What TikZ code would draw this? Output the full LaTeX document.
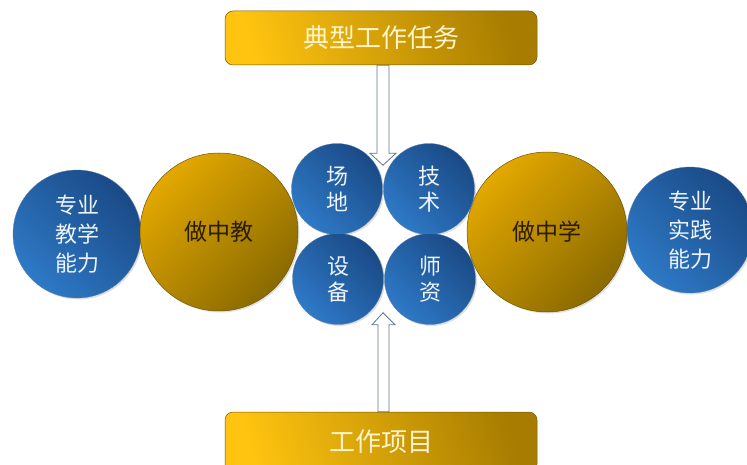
\documentclass[tikz,border=0pt]{standalone}
\usepackage{fontspec}
\setmainfont{Noto Sans CJK SC}
\usetikzlibrary{calc,shadows}
\definecolor{blueL}{HTML}{2E79C6}
\definecolor{blueD}{HTML}{1A4A86}
\definecolor{goldL}{HTML}{E3A800}
\definecolor{goldD}{HTML}{8A6A00}
\definecolor{boxL}{HTML}{FFC410}
\definecolor{boxD}{HTML}{A77C00}
\definecolor{boxtxt}{HTML}{FFF4CC}
\definecolor{bluetxt}{HTML}{EEF4FA}
\definecolor{goldtxt}{HTML}{2A1C00}
\definecolor{arrline}{HTML}{61758F}
\begin{document}
\begin{tikzpicture}[x=1pt,y=-1pt,
  bluec/.style={circle,inner sep=0pt,top color=blueD,bottom color=blueL,shading angle=-45,
    draw=blueD!70,line width=0.3pt,text=bluetxt,align=center,
    drop shadow={opacity=0.25,shadow xshift=1.5pt,shadow yshift=-1.5pt}},
  goldc/.style={circle,inner sep=0pt,top color=goldL,bottom color=goldD,shading angle=45,
    draw=goldD!80!black,line width=0.5pt,text=goldtxt,
    font={\fontsize{23}{28}\selectfont},
    drop shadow={opacity=0.25,shadow xshift=1.5pt,shadow yshift=-1.5pt}},
  bigtxt/.style={font={\fontsize{22}{29}\selectfont}},
  smalltxt/.style={font={\fontsize{22}{26}\selectfont}},
  boxs/.style={rectangle,rounded corners=8pt,top color=boxD,bottom color=boxL,shading angle=-75,
    draw=boxD!70!black,line width=0.5pt,text=boxtxt,minimum width=312pt,
    font={\fontsize{26}{30}\selectfont}},
  arr/.style={draw=arrline,fill=white,line width=0.8pt,line join=miter}
]
\useasboundingbox (0,0) rectangle (747,465);
\clip (0,0) rectangle (747,465);

% boxes
\node[boxs,minimum height=54pt] (top) at (381,38) {典型工作任务};
\node[boxs,minimum height=60pt] (bot) at (381,442) {工作项目};

% big circles
\node[bluec,bigtxt,minimum size=128pt] (jx) at (77,234) {专业\\教学\\能力};
\node[goldc,minimum size=158pt] (zj) at (219,232) {做中教};
\node[goldc,minimum size=160pt] (zx) at (547,232) {做中学};
\node[bluec,bigtxt,minimum size=126pt] (sj) at (690,230) {专业\\实践\\能力};

% small circles
\node[bluec,smalltxt,minimum size=91pt] (cd) at (337,189) {场\\地};
\node[bluec,smalltxt,minimum size=91pt] (js) at (429,189) {技\\术};
\node[bluec,smalltxt,minimum size=91pt] (sb) at (338,279) {设\\备};
\node[bluec,smalltxt,minimum size=91pt] (sz) at (430,279) {师\\资};

% arrows
\coordinate (ttip) at ($(top.south)+(2,100)$);
\draw[arr] ($(top.south)+(-4,0)$) -- ($(top.south)+(8,0)$) -- ($(ttip)+(6,-12)$)
  -- ($(ttip)+(13,-12)$) -- (ttip) -- ($(ttip)+(-13,-12)$) -- ($(ttip)+(-6,-12)$) -- cycle;
\coordinate (btip) at ($(bot.north)+(2,-99)$);
\draw[arr] ($(bot.north)+(-3,0)$) -- ($(bot.north)+(8,0)$) -- ($(btip)+(6,12)$)
  -- ($(btip)+(12,12)$) -- (btip) -- ($(btip)+(-11,12)$) -- ($(btip)+(-5,12)$) -- cycle;
\end{tikzpicture}
\end{document}
